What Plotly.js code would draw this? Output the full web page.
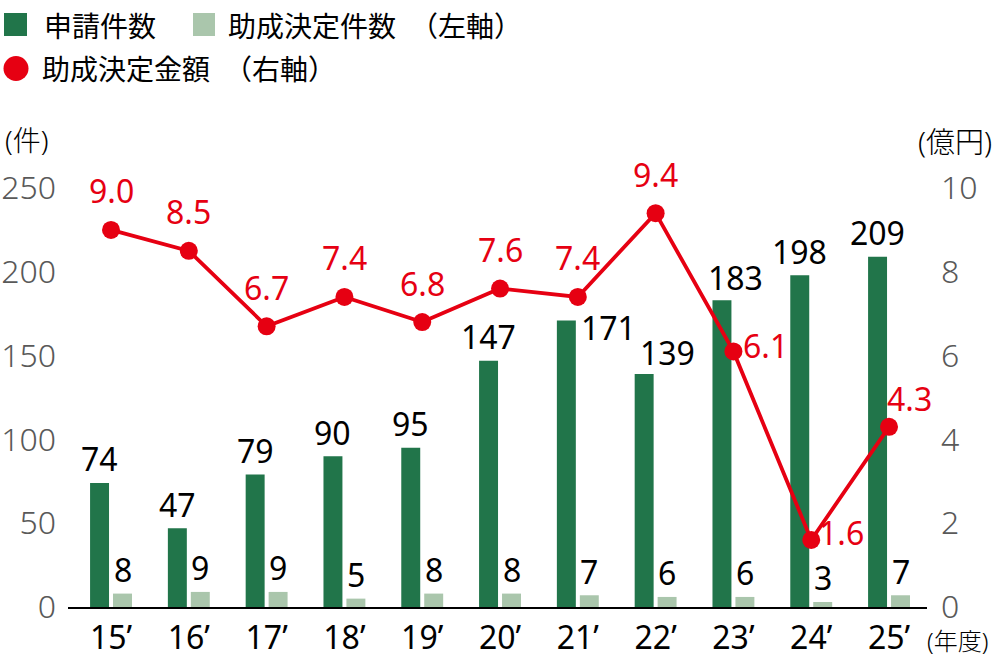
<!DOCTYPE html>
<html>
<head>
<meta charset="utf-8">
<script src="https://cdn.plot.ly/plotly-3.0.1.min.js"></script>
<style>
  html, body { margin: 0; padding: 0; background: #ffffff; }
  #chart { width: 1000px; height: 662px; }
</style>
</head>
<body>
<div id="chart"></div>
<script>
// 年度別の申請件数・助成決定件数・助成決定金額

var years = ['15’', '16’', '17’', '18’', '19’', '20’', '21’', '22’', '23’', '24’', '25’'];

// 申請件数（左軸）
var applications = [74, 47, 79, 90, 95, 147, 171, 139, 183, 198, 209];

// 助成決定件数（左軸）
var grants = [8, 9, 9, 5, 8, 8, 7, 6, 6, 3, 7];

// 助成決定金額（右軸、億円）
var amounts = [9.0, 8.5, 6.7, 7.4, 6.8, 7.6, 7.4, 9.4, 6.1, 1.6, 4.3];

var leftTicks = [0, 50, 100, 150, 200, 250];
var rightTicks = [0, 2, 4, 6, 8, 10];

var FONT = "'Noto Sans', 'Noto Sans CJK JP', sans-serif";
var JFONT = "'Noto Sans CJK JP', 'Noto Sans', sans-serif";
var DARK = '#21754a';
var LIGHT = '#aac6ac';
var RED = '#e60012';

// plot area in pixels (used for the hand made legend)
var L = 68, R = 73, T = 188, B = 55;
var W = 1000 - L - R, H = 662 - T - B;
function px(x) { return (x - L) / W; }
function py(y) { return (662 - B - y) / H; }

var bars1 = {
  x: years,
  y: applications,
  type: 'bar',
  name: '申請件数',
  hoverinfo: 'none',
  marker: { color: DARK }
};

var bars2 = {
  x: years,
  y: grants,
  type: 'bar',
  name: '助成決定件数（左軸）',
  hoverinfo: 'none',
  marker: { color: LIGHT }
};

var line = {
  x: years,
  y: amounts,
  yaxis: 'y2',
  type: 'scatter',
  mode: 'lines+markers',
  name: '助成決定金額（右軸）',
  hoverinfo: 'none',
  line: { color: RED, width: 3.8 },
  marker: { color: RED, size: 18 },
  cliponaxis: false
};

var data = [bars1, bars2, line];

// value labels (a few are nudged like in the original)
var annotations = [];
var darkShiftX = [0, 0, 0, 0, 0, 0, 42, 23, 14, 0, 0];
var darkShiftY = [0, 0, 0, 0, 0, 0, -31, -2, -1, 0, 0];
var redShiftX = [0, 0, 0, 0, 0, 0, 0, 0, 32, 30, 20];
var redShiftY = [0, 0, 0, 0, 0, 0, 0, 0, -33, -32, -11];

var numFont = function (c, w) { return { family: FONT, size: 32, color: c, weight: w || 400 }; };

years.forEach(function (yr, i) {
  annotations.push({
    x: yr, y: applications[i], xref: 'x', yref: 'y',
    text: String(applications[i]), showarrow: false,
    xshift: -11.5 + darkShiftX[i], yshift: 24 + darkShiftY[i],
    yanchor: 'middle',
    font: numFont('#000000')
  });
  annotations.push({
    x: yr, y: grants[i], xref: 'x', yref: 'y',
    text: String(grants[i]), showarrow: false,
    xshift: 11.5, yshift: 24,
    yanchor: 'middle',
    font: numFont('#000000')
  });
  annotations.push({
    x: yr, y: amounts[i], xref: 'x', yref: 'y2',
    text: amounts[i].toFixed(1), showarrow: false,
    xshift: redShiftX[i], yshift: 39 + redShiftY[i],
    yanchor: 'middle',
    font: numFont(RED)
  });
});

// axis unit labels
annotations.push({
  xref: 'paper', yref: 'paper', x: px(3), y: py(140), xanchor: 'left', yanchor: 'middle',
  text: '(件)', showarrow: false, font: { family: FONT, size: 28, color: '#000000', weight: 300 }
});
annotations.push({
  xref: 'paper', yref: 'paper', x: px(994), y: py(141), xanchor: 'right', yanchor: 'middle',
  text: '(億円)', showarrow: false, font: { family: FONT, size: 29, color: '#000000', weight: 300 }
});
annotations.push({
  xref: 'paper', yref: 'paper', x: px(990), y: py(640), xanchor: 'right', yanchor: 'middle',
  text: '(年度)', showarrow: false, font: { family: FONT, size: 24, color: '#000000', weight: 300 }
});

// legend
var legendText = [
  { x: 42, y: 25, t: '申請件数' },
  { x: 226, y: 25, t: '助成決定件数\u2002（左軸）' },
  { x: 40, y: 68, t: '助成決定金額\u2002（右軸）' }
];
legendText.forEach(function (d) {
  annotations.push({
    xref: 'paper', yref: 'paper', x: px(d.x), y: py(d.y), xanchor: 'left', yanchor: 'middle',
    text: d.t, showarrow: false, font: { family: JFONT, size: 28, color: '#000000' }
  });
});

var shapes = [
  { type: 'rect', xref: 'paper', yref: 'paper', x0: px(4), x1: px(27), y0: py(13), y1: py(36),
    fillcolor: DARK, line: { width: 0 } },
  { type: 'rect', xref: 'paper', yref: 'paper', x0: px(193), x1: px(215), y0: py(13), y1: py(36),
    fillcolor: LIGHT, line: { width: 0 } },
  { type: 'circle', xref: 'paper', yref: 'paper', x0: px(3.5), x1: px(28.5), y0: py(56), y1: py(81),
    fillcolor: RED, line: { width: 0 } }
];

var layout = {
  width: 1000,
  height: 662,
  font: { family: FONT, size: 32, color: '#000000' },
  showlegend: false,
  paper_bgcolor: '#ffffff',
  plot_bgcolor: '#ffffff',
  barmode: 'group',
  bargap: 0.41,
  bargroupgap: 0.174,
  margin: { l: L, r: R, t: T, b: B },
  xaxis: {
    type: 'category',
    range: [-0.553, 10.488],
    showline: true,
    linecolor: '#000000',
    linewidth: 2,
    ticks: '',
    showgrid: false,
    zeroline: false,
    ticklabelstandoff: 2,
    tickfont: numFont('#000000')
  },
  yaxis: {
    range: [0, 250],
    tickvals: leftTicks,
    showgrid: false,
    zeroline: false,
    showline: false,
    ticks: '',
    ticklabelstandoff: 11,
    tickfont: numFont('#595959', 300)
  },
  yaxis2: {
    overlaying: 'y',
    side: 'right',
    range: [0, 10],
    tickvals: rightTicks,
    showgrid: false,
    zeroline: false,
    showline: false,
    ticks: '',
    ticklabelstandoff: 13,
    tickfont: numFont('#595959', 300)
  },
  annotations: annotations,
  shapes: shapes
};

Plotly.newPlot('chart', data, layout, { staticPlot: true });
</script>
</body>
</html>
